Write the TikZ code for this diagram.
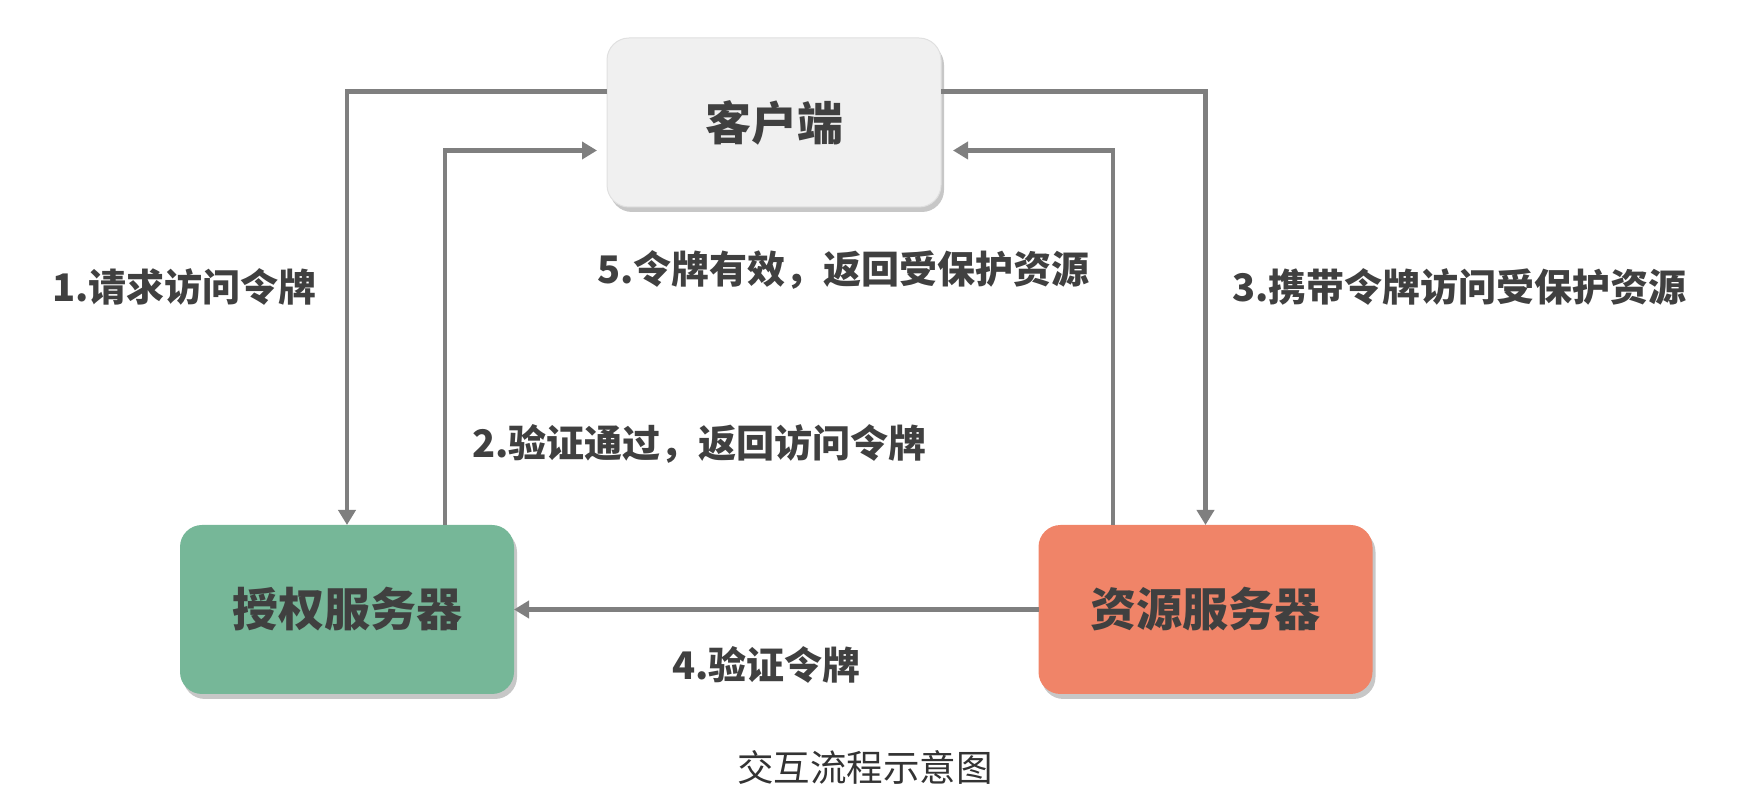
\documentclass[tikz,border=0pt]{standalone}
\usepackage{fontspec}
\newfontfamily\cjk{Noto Sans CJK SC}
\usetikzlibrary{arrows.meta,shadows}
\definecolor{clientgray}{HTML}{F0F0F0}
\definecolor{authgreen}{HTML}{76B798}
\definecolor{resorange}{HTML}{F08468}
\definecolor{linegray}{HTML}{7F7F7F}
\definecolor{txtgray}{HTML}{404040}
\definecolor{capgray}{HTML}{333333}

\begin{document}
\begin{tikzpicture}
[
  x=1pt, y=1pt,
	box/.style={minimum width=334pt,minimum height=169pt,inner sep=0pt,outer sep=0pt,
		rounded corners=22pt,text=txtgray,font=\cjk\bfseries\fontsize{46}{55}\selectfont,
		drop shadow={shadow xshift=3pt,shadow yshift=-5pt,fill=black,opacity=0.22}},
	clientbox/.style={box,fill=clientgray,draw=black!12,line width=1pt},
	authbox/.style={box,fill=authgreen},
	resbox/.style={box,fill=resorange},
	flow/.style={draw=linegray,line width=4.5pt,-{Triangle[width=17pt,length=15pt]}},
	lbl/.style={anchor=west,inner sep=0pt,text=txtgray,font=\cjk\bfseries\fontsize{38}{45}\selectfont}
]
\useasboundingbox (0,0) rectangle (1761,803);

% boxes
\node[clientbox](client) at (774,680.5) {客户端};
\node[authbox](auth) at (347,193.5) {授权服务器};
\node[resbox](res) at (1205.5,193.5) {资源服务器};

% flows
\draw[flow] ([yshift=31pt]client.west) -| (auth.north);
\draw[flow,shorten >=10pt] ([xshift=98pt]auth.north) |- ([yshift=-28pt]client.west);
\draw[flow] ([yshift=31pt]client.east) -| (res.north);
\draw[flow] (res.west) -- (auth.east);
\draw[flow,shorten >=12pt] ([xshift=-92.5pt]res.north) |- ([yshift=-28pt]client.east);

% labels
\node[lbl](l1) at (52,516) {1.请求访问令牌};
\node[lbl](l2) at (472,359) {2.验证通过，返回访问令牌};
\node[lbl](l3) at (1232,516) {3.携带令牌访问受保护资源};
\node[lbl](l4) at (672,138) {4.验证令牌};
\node[lbl](l5) at (597,533) {5.令牌有效，返回受保护资源};

\node[inner sep=0pt,text=capgray,font=\cjk\fontsize{36.5}{44}\selectfont](caption) at (865,35) {交互流程示意图};

\end{tikzpicture}
\end{document}
